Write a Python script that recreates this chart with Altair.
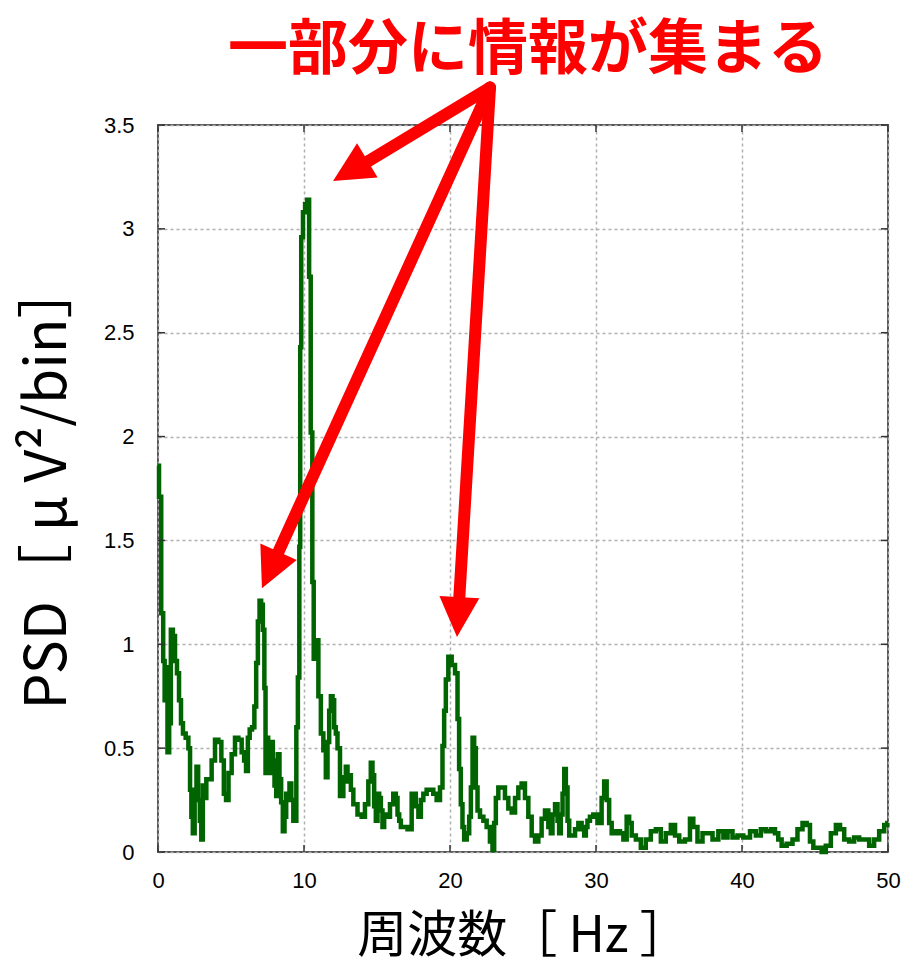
import altair as alt
import pandas as pd

# ---- data ----
freq_a = [0.0,0.14,0.30,0.41,0.50,0.59,0.71,0.82,0.94,1.10,1.23,1.37,1.51,1.64,1.78,2.01,2.15,2.24,2.33,2.44,
          2.58,2.69,2.81,2.92,3.01,3.13,3.24,3.38,3.56,3.79,4.02,4.25,4.43,4.59,4.73,4.93,5.16,5.39,5.62,5.84,
          5.96,6.10,6.21,6.35,6.53,6.67,6.78,6.90,7.01,7.12,7.24,7.33,7.40,7.49,7.60,7.69,7.81,7.92,8.04,8.15,
          8.26,8.38,8.49,8.61,8.72,8.84,8.95,9.06,9.20,9.34,9.43,9.52]
psd_a = [1.86,1.71,1.15,0.92,0.73,0.89,0.48,0.62,1.07,1.04,0.92,0.86,0.73,0.62,0.57,0.55,0.50,0.30,0.17,0.09,
         0.30,0.41,0.25,0.15,0.06,0.32,0.26,0.35,0.35,0.44,0.54,0.53,0.44,0.28,0.25,0.38,0.47,0.55,0.54,0.48,
         0.44,0.39,0.55,0.59,0.60,0.70,0.91,1.11,1.21,1.19,1.07,0.79,0.38,0.55,0.52,0.38,0.53,0.44,0.32,0.27,
         0.47,0.35,0.24,0.10,0.17,0.28,0.25,0.33,0.25,0.15,0.15,0.60]

freq_b = [9.64,9.72,9.76,9.86,10.0,10.15,10.3,10.4,10.52,10.62,10.71,10.87,11.1,11.21,11.44,11.55,11.67,11.78,
          11.9,12.01,12.12,12.24,12.35,12.58,12.81,12.92,13.04,13.15,13.27,13.49,13.84,14.06,14.29,14.52,14.63,
          14.75,14.86,14.98,15.09,15.21,15.32,15.43,15.55,15.78,16.0,16.23,16.35,16.46,16.58,16.69,16.92,17.26,
          17.49,17.6,17.72,17.95,18.06,18.29,18.51,18.74,18.97,19.2,19.43,19.54,19.66,19.77]
psd_b = [0.84,1.47,2.43,2.96,3.08,3.12,3.14,2.77,2.02,1.30,0.93,1.02,0.75,0.57,0.49,0.36,0.53,0.68,
         0.75,0.73,0.60,0.57,0.50,0.27,0.36,0.41,0.34,0.37,0.30,0.23,0.18,0.17,0.23,0.34,0.43,
         0.37,0.22,0.15,0.28,0.26,0.20,0.12,0.18,0.17,0.23,0.28,0.26,0.18,0.15,0.12,0.12,0.11,
         0.28,0.28,0.22,0.17,0.25,0.28,0.30,0.30,0.28,0.25,0.31,0.51,0.68,0.83]

freq_c = [20.0,20.23,20.46,20.57,20.68,20.8,20.91,21.03,21.26,21.37,21.49,21.6,21.71,21.83,21.94,22.17,22.4,
          22.62,22.85,22.97,23.08,23.2,23.42,23.65,23.88,24.11,24.34,24.57,24.79,25.02,25.25,25.48,25.71,25.94,
          26.16,26.39,26.62,26.85,26.96,27.08,27.31,27.42,27.53,27.65,27.77,27.88,27.99,28.11,28.22,28.45,28.68,
          28.9,29.13,29.25,29.36,29.47,29.7,29.93]
psd_c = [0.94,0.90,0.86,0.64,0.40,0.23,0.12,0.06,0.09,0.17,0.31,0.55,0.50,0.31,0.20,0.17,0.15,
         0.12,0.05,0.01,0.14,0.26,0.31,0.31,0.26,0.21,0.19,0.26,0.31,0.33,0.26,0.17,0.08,0.05,
         0.08,0.16,0.20,0.12,0.09,0.18,0.23,0.15,0.09,0.18,0.28,0.40,0.31,0.15,0.08,0.08,0.11,
         0.14,0.11,0.08,0.12,0.15,0.17,0.18]

freq_d = [30.27,30.5,30.62,30.84,30.96,31.19,31.53,31.76,31.99,32.21,32.33,32.56,32.9,33.24,33.58,33.93,34.27,
          34.61,34.95,35.3,35.53,35.87,36.32,36.55,36.78,37.12,37.47,37.81,38.15,38.61,38.84,39.18,39.52,39.86,
          40.32,40.78,41.12,41.46,41.8,42.15,42.37,42.6,42.83,43.29,43.63,43.97,44.32,44.54,44.77,45.0,45.34,
          45.57,45.91,46.26,46.6,46.83,47.17,47.51,47.85,48.2,48.54,48.88,49.22,49.57,49.91,50.0]
psd_d = [0.14,0.26,0.34,0.25,0.14,0.09,0.10,0.09,0.06,0.17,0.14,0.08,0.06,0.02,0.06,0.10,0.11,
         0.05,0.09,0.13,0.08,0.05,0.06,0.16,0.12,0.05,0.09,0.09,0.06,0.10,0.07,0.10,0.07,0.08,
         0.07,0.10,0.08,0.11,0.10,0.11,0.09,0.06,0.03,0.04,0.06,0.11,0.14,0.13,0.05,0.02,0.02,
         0.00,0.03,0.09,0.13,0.11,0.06,0.05,0.07,0.06,0.06,0.03,0.06,0.10,0.13,0.14]

x_ticks = [0, 10, 20, 30, 40, 50]
y_ticks = [0, 0.5, 1, 1.5, 2, 2.5, 3, 3.5]

title_text = "一部分に情報が集まる"
x_title = "周波数［ Hz ］"
y_title = "PSD［ μ V²/bin］"

# annotation arrows (common start, shaft end, arrow tip, head angle)
arrow_start_f = [22.74, 22.74, 22.74]
arrow_start_v = [3.68, 3.68, 3.68]
arrow_end_f = [14.04, 8.12, 20.62]
arrow_end_v = [3.31, 1.425, 1.204]
arrow_tip_f = [11.99, 7.12, 20.48]
arrow_tip_v = [3.23, 1.27, 1.035]
arrow_angle = [239, 204.5, 183.4]

# ---- build tables ----
freq = freq_a + freq_b + freq_c + freq_d
psd = psd_a + psd_b + psd_c + psd_d
assert len(freq) == len(psd)
df = pd.DataFrame({"f": freq, "p": psd})
arrows = pd.DataFrame({"x": arrow_start_f, "y": arrow_start_v, "x2": arrow_end_f, "y2": arrow_end_v})
heads = pd.DataFrame({"x": arrow_tip_f, "y": arrow_tip_v, "a": arrow_angle})
xt = pd.DataFrame({"t": x_ticks})
yt = pd.DataFrame({"t": y_ticks})
tt = pd.DataFrame({"t": [title_text]})

W, H = 730, 727
xs = alt.Scale(domain=[0, 50], nice=False, zero=False)
ys = alt.Scale(domain=[0, 3.5], nice=False, zero=False)

line = alt.Chart(df).mark_line(color="#006400", strokeWidth=4.5, strokeJoin="miter",
                               interpolate="step").encode(
    x=alt.X("f:Q", scale=xs, title=x_title,
            axis=alt.Axis(values=x_ticks, format="d", tickSize=0, labelPadding=18, labelFlush=False,
                          titleY=84, titleBaseline="middle", titleFontSize=50)),
    y=alt.Y("p:Q", scale=ys, title=y_title,
            axis=alt.Axis(values=y_ticks, format="~g", tickSize=0, labelPadding=24, labelFlush=False,
                          titleX=-110, titleY=360, titleBaseline="middle", titleFontSize=57)),
)

tick_b = alt.Chart(xt).mark_rule(color="#333333", strokeWidth=1.5).encode(
    x=alt.X("t:Q", scale=xs), y=alt.value(H), y2=alt.value(H - 7))
tick_t = alt.Chart(xt).mark_rule(color="#333333", strokeWidth=1.5).encode(
    x=alt.X("t:Q", scale=xs), y=alt.value(0), y2=alt.value(7))
tick_l = alt.Chart(yt).mark_rule(color="#333333", strokeWidth=1.5).encode(
    y=alt.Y("t:Q", scale=ys), x=alt.value(0), x2=alt.value(7))
tick_r = alt.Chart(yt).mark_rule(color="#333333", strokeWidth=1.5).encode(
    y=alt.Y("t:Q", scale=ys), x=alt.value(W), x2=alt.value(W - 7))

shafts = alt.Chart(arrows).mark_rule(color="#FF0000", strokeWidth=12, strokeCap="round").encode(
    x=alt.X("x:Q", scale=xs), y=alt.Y("y:Q", scale=ys), x2="x2:Q", y2="y2:Q")
head_shape = "M0,0 L0.8,1.6 L-0.8,1.6 Z"
arrowheads = alt.Chart(heads).mark_point(shape=head_shape, filled=True, color="#FF0000",
                                         opacity=1, size=2500, strokeWidth=0).encode(
    x=alt.X("x:Q", scale=xs), y=alt.Y("y:Q", scale=ys),
    angle=alt.Angle("a:Q", scale=None))

title_mark = alt.Chart(tt).mark_text(font="Noto Sans CJK JP", fontSize=60, fontWeight="bold",
                                     color="#FF0000", align="center", baseline="alphabetic").encode(
    text="t:N", x=alt.value(370), y=alt.value(-56))

chart = alt.layer(line, tick_b, tick_t, tick_l, tick_r, shafts, arrowheads, title_mark).properties(
    width=W, height=H,
    autosize=alt.AutoSizeParams(type="none"),
    padding={"left": 158, "top": 125, "right": 18, "bottom": 112},
    background="white",
).configure_view(stroke="#555555", strokeWidth=2).configure_axis(
    grid=True, gridColor="#b0b0b0", gridDash=[3, 3], gridWidth=1.5, domain=False,
    labelFont="Liberation Sans", labelFontSize=22, labelColor="#000000",
    titleFont="Noto Sans CJK JP", titleFontWeight="normal", titleColor="#000000",
)

chart.save("out.html", embed_options={"renderer": "svg", "actions": False})
